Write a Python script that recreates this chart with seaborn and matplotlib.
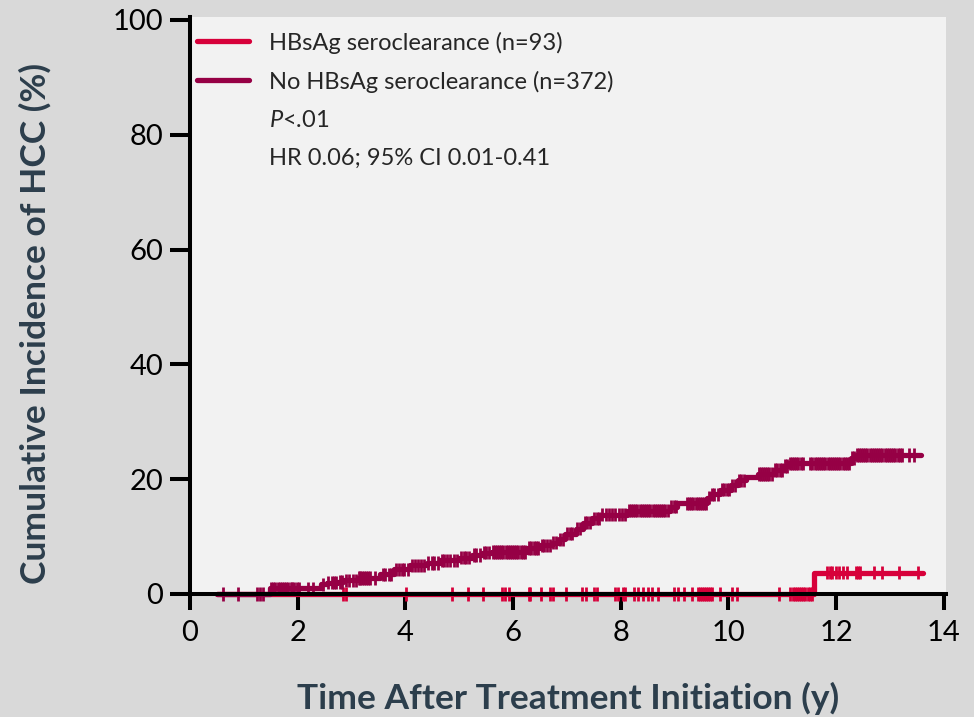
import numpy as np
import pandas as pd
import seaborn as sns
import matplotlib.pyplot as plt
from matplotlib.lines import Line2D

# Kaplan-Meier style cumulative incidence (step points)
groups = ["HBsAg seroclearance (n=93)", "No HBsAg seroclearance (n=372)"]
colors = ["#d7003a", "#960045"]

clear_time = [0.5, 11.58, 13.62]
clear_inc = [0.0, 3.7, 3.7]

noclear_time = [0.5, 1.49, 2.44, 2.54, 2.73, 2.85, 3.12, 3.53, 3.78, 4.09, 4.40,
                4.65, 5.00, 5.24, 5.43, 5.60, 6.26, 6.50, 6.72, 6.85, 6.97, 7.16,
                7.30, 7.47, 7.62, 8.12, 8.92, 9.05, 9.60, 9.67, 9.85, 10.04, 10.17,
                10.32, 10.54, 10.84, 11.02, 11.12, 12.27, 12.36, 13.57]
noclear_inc = [0.0, 1.0, 1.7, 2.0, 2.1, 2.4, 2.8, 3.4, 4.3, 5.0, 5.4,
               5.9, 6.3, 6.8, 7.2, 7.3, 8.0, 8.5, 8.9, 9.5, 10.5, 11.4,
               12.4, 13.2, 13.8, 14.5, 15.2, 15.8, 16.8, 17.4, 18.2, 18.9, 19.8,
               20.4, 20.9, 21.6, 22.3, 22.8, 23.7, 24.2, 24.2]

# censored observations (tick marks)
clear_cens = [2.85, 2.89, 4.01, 4.86, 5.17, 5.44, 5.79, 5.85, 5.92, 6.29, 6.32,
              6.52, 6.68, 6.74, 6.99, 7.28, 7.36, 7.50, 7.56, 7.90, 7.94, 8.04,
              8.08, 8.25, 8.32, 8.41, 8.50, 8.58, 8.69, 8.98, 9.07, 9.17, 9.32,
              9.44, 9.47, 9.51, 9.55, 9.58, 9.62, 9.66, 9.70, 9.85, 10.07, 10.16,
              10.94, 11.15, 11.19, 11.23, 11.27, 11.31, 11.35, 11.39, 11.43,
              11.47, 11.51, 11.55, 11.83, 11.88, 11.92, 12.00, 12.06, 12.12,
              12.20, 12.36, 12.41, 12.45, 12.70, 12.86, 13.17, 13.52]
noclear_cens = [0.62, 0.89, 1.24, 1.30, 1.36, 1.51, 1.55, 1.58, 1.63, 1.67, 1.70,
                1.75, 1.79, 1.82, 1.87, 1.90, 1.94, 1.98, 2.02, 2.19, 2.29, 2.47,
                2.57, 2.63, 2.67, 2.72, 2.78, 2.83, 2.90, 2.96, 3.02, 3.08, 3.13,
                3.16, 3.20, 3.23, 3.27, 3.30, 3.34, 3.44, 3.58, 3.63, 3.69, 3.74,
                3.82, 3.88, 3.93, 3.98, 4.04, 4.12, 4.18, 4.24, 4.29, 4.35, 4.42,
                4.50, 4.53, 4.60, 4.68, 4.72, 4.78, 4.83, 4.90, 4.95, 5.03, 5.08,
                5.13, 5.19, 5.27, 5.32, 5.38, 5.46, 5.50, 5.55, 5.62, 5.66, 5.70,
                5.74, 5.78, 5.82, 5.86, 5.90, 5.94, 5.98, 6.02, 6.06, 6.10, 6.14,
                6.18, 6.22, 6.29, 6.34, 6.38, 6.43, 6.47, 6.53, 6.58, 6.63, 6.68,
                6.75, 6.80, 6.88, 6.92, 7.00, 7.05, 7.10, 7.19, 7.24, 7.33, 7.38,
                7.43, 7.50, 7.55, 7.60, 7.66, 7.72, 7.78, 7.84, 7.90, 7.96, 8.02,
                8.08, 8.15, 8.19, 8.23, 8.27, 8.31, 8.35, 8.39, 8.43, 8.47, 8.51,
                8.55, 8.59, 8.63, 8.67, 8.71, 8.75, 8.79, 8.83, 8.87, 8.94, 8.99,
                9.03, 9.23, 9.27, 9.31, 9.35, 9.39, 9.43, 9.47, 9.51, 9.55, 9.59,
                9.63, 9.70, 9.74, 9.80, 9.88, 9.92, 9.97, 10.01, 10.07, 10.12,
                10.20, 10.24, 10.29, 10.56, 10.60, 10.64, 10.68, 10.72, 10.76,
                10.80, 10.87, 10.91, 10.96, 11.00, 11.05, 11.09, 11.14, 11.18,
                11.22, 11.26, 11.30, 11.34, 11.38, 11.52, 11.56, 11.60, 11.64,
                11.68, 11.72, 11.76, 11.80, 11.84, 11.88, 11.92, 11.96, 12.00,
                12.04, 12.08, 12.12, 12.16, 12.20, 12.24, 12.29, 12.33, 12.38,
                12.42, 12.46, 12.50, 12.54, 12.58, 12.62, 12.66, 12.70, 12.74,
                12.78, 12.82, 12.86, 12.90, 12.94, 12.98, 13.02, 13.06, 13.10,
                13.14, 13.18, 13.22, 13.35, 13.44]

x_ticks = [0, 2, 4, 6, 8, 10, 12, 14]
y_ticks = [0, 20, 40, 60, 80, 100]


def step_value(times, values, t):
    # value of the step curve at time t
    idx = np.searchsorted(times, t, side="right") - 1
    return np.asarray(values)[idx]


curves = pd.concat([
    pd.DataFrame({"time": clear_time, "inc": clear_inc, "group": groups[0]}),
    pd.DataFrame({"time": noclear_time, "inc": noclear_inc, "group": groups[1]}),
])
cens = pd.concat([
    pd.DataFrame({"time": clear_cens,
                  "inc": step_value(clear_time, clear_inc, clear_cens),
                  "group": groups[0]}),
    pd.DataFrame({"time": noclear_cens,
                  "inc": step_value(noclear_time, noclear_inc, noclear_cens),
                  "group": groups[1]}),
])

sns.set_theme(style="ticks")
plt.rcParams["font.family"] = ["Lato", "DejaVu Sans"]
plt.rcParams["mathtext.fontset"] = "custom"
plt.rcParams["mathtext.it"] = "Lato:italic"
plt.rcParams["mathtext.rm"] = "Lato"

palette = dict(zip(groups, colors))

fig = plt.figure(figsize=(9.74, 7.17), dpi=100, facecolor="#d9d9d9")
ax = fig.add_axes([0.19507, 0.17155, 0.7762, 0.80474])
ax.set_facecolor("#f2f2f2")

sns.lineplot(data=curves, x="time", y="inc", hue="group", hue_order=groups,
             palette=palette, drawstyle="steps-post", estimator=None,
             linewidth=3.8, legend=False, clip_on=False, ax=ax)
sns.scatterplot(data=cens, x="time", y="inc", hue="group", hue_order=groups,
                palette=palette, marker="|", s=90, linewidth=2.0,
                legend=False, clip_on=False, zorder=2.1, ax=ax)

ax.set_xlim(0, 14.04)
ax.set_ylim(0, 100.5)
ax.set_xticks(x_ticks)
ax.set_yticks(y_ticks)
sns.despine(ax=ax)
for side in ["left", "bottom"]:
    ax.spines[side].set_linewidth(2.9)
    ax.spines[side].set_color("black")
ax.tick_params(axis="both", colors="black", width=2.9, labelsize=21)
ax.tick_params(axis="x", length=11.5, pad=7)
ax.tick_params(axis="y", length=14.4, pad=5)

label_color = "#2c3e4c"
ax.set_xlabel("Time After Treatment Initiation (y)", fontsize=25.5,
              fontweight="bold", color=label_color)
ax.set_ylabel("Cumulative Incidence of HCC (%)", fontsize=25.5,
              fontweight="bold", color=label_color)
ax.xaxis.set_label_coords(0.5, -0.152)
ax.xaxis.label.set_va("top")
ax.yaxis.set_label_coords(-0.183, 0.468)

handles = [Line2D([], [], color=colors[0], lw=3.8),
           Line2D([], [], color=colors[1], lw=3.8)] + \
          [Line2D([], [], color="none") for _ in range(2)]
labels = groups + ["$P$<.01", "HR 0.06; 95% CI 0.01-0.41"]
ax.legend(handles, labels, loc="upper left", bbox_to_anchor=(0.0093, 0.975),
          frameon=False, fontsize=17, handlelength=2.2, handletextpad=0.85,
          labelspacing=0.72, borderaxespad=0, borderpad=0)

fig.savefig("out.png", dpi=100, facecolor=fig.get_facecolor())
